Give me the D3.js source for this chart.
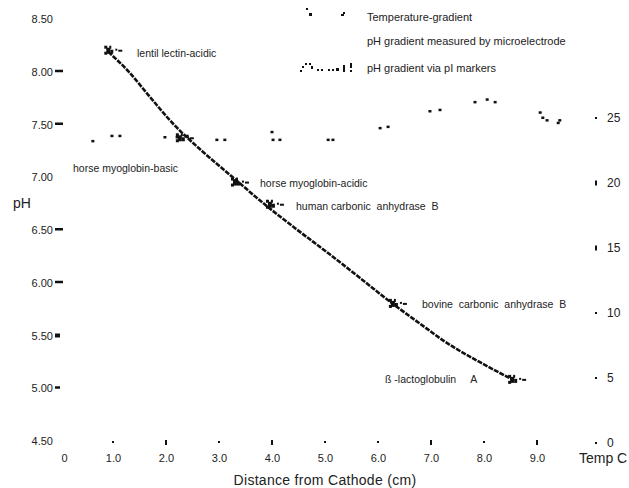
<!DOCTYPE html>
<html>
<head>
<meta charset="utf-8">
<script src="https://cdn.jsdelivr.net/npm/d3@7"></script>
<style>
  body { margin: 0; background: #fff; }
  text { font-family: "Liberation Sans", Arial, sans-serif; fill: #222; }
</style>
</head>
<body>
<div class="chart"></div>
<script>
// distance from cathode (cm) / pH
var electrodeDist = [0.91, 1.28, 1.70, 2.13, 2.70, 3.26, 3.92, 4.43, 5.09, 5.65, 6.23, 6.80, 7.30, 7.95, 8.55];
var electrodePH   = [8.18, 8.00, 7.75, 7.50, 7.23, 6.99, 6.71, 6.51, 6.26, 6.04, 5.81, 5.60, 5.42, 5.23, 5.07];

// temperature gradient, deg C
var tempDist = [0.62, 0.98, 1.13, 1.98, 2.21, 2.40, 2.96, 3.11, 4.00, 4.02, 4.15, 5.06, 5.15,
                6.04, 6.19, 6.98, 7.17, 7.83, 8.06, 8.21, 9.06, 9.11, 9.19, 9.40, 9.43];
var tempC    = [23.2, 23.6, 23.6, 23.5, 23.5, 23.6, 23.3, 23.3, 23.9, 23.3, 23.3, 23.3, 23.3,
                24.2, 24.3, 25.5, 25.6, 26.2, 26.4, 26.2, 25.4, 25.0, 24.8, 24.6, 24.8];

// pI markers
var markerNames = ["lentil lectin-acidic", "horse myoglobin-basic", "horse myoglobin-acidic",
                   "human carbonic  anhydrase  B", "bovine  carbonic  anhydrase  B", "ß -lactoglobulin     A"];
var markerDist = [0.93, 2.28, 3.32, 3.98, 6.30, 8.55];
var markerPH   = [8.19, 7.36, 6.94, 6.73, 5.79, 5.07];

var phTicks   = [4.5, 5.0, 5.5, 6.0, 6.5, 7.0, 7.5, 8.0, 8.5];
var phMarks   = [5.0, 5.5, 6.0, 6.5, 7.5, 8.0];
var distTicks = [0, 1, 2, 3, 4, 5, 6, 7, 8, 9];
var tempTicks = [0, 5, 10, 15, 20, 25];

var width = 629, height = 488;

var svg = d3.select('.chart')
  .append('svg')
    .attr('width', width)
    .attr('height', height);

var x = d3.scaleLinear().domain([0, 10]).range([60, 590]);
var y = d3.scaleLinear().domain([4.5, 8.5]).range([440, 18]);
var t = d3.scaleLinear().domain([0, 25]).range([443, 118]);

/**
 * Axes
 */
var yAxis = d3.axisLeft(y)
  .tickValues(phTicks)
  .tickFormat(d3.format('.2f'))
  .tickSize(0)
  .tickPadding(2);

svg.append('g')
    .attr('transform', 'translate(55, 1)')
  .call(yAxis)
  .call(g => g.select('.domain').remove())
  .selectAll('text').style('font-size', '11px');

// little bars next to the pH labels
svg.selectAll('.phmark')
  .data(phMarks)
  .enter().append('rect')
    .attr('x', 55)
    .attr('y', d => y(d) - 1)
    .attr('width', d => d === 5.5 ? 5 : (d === 5.0 ? 5 : 8))
    .attr('height', d => d === 5.5 ? 4 : 2.5)
    .style('fill', '#111');

var xAxis = d3.axisBottom(x)
  .tickValues(distTicks)
  .tickFormat(d => d === 0 ? '0' : d.toFixed(1))
  .tickSize(0)
  .tickPadding(4);

svg.append('g')
    .attr('transform', 'translate(0, 450)')
  .call(xAxis)
  .call(g => g.select('.domain').remove())
  .call(g => g.selectAll('text').style('font-size', '11px'))
  .call(g => g.selectAll('.tick').filter(d => d === 0).select('text').attr('dx', 4));

// dots along the bottom
svg.selectAll('.xdot')
  .data(distTicks.slice(1))
  .enter().append('rect')
    .attr('x', d => x(d) - 1)
    .attr('y', d => [2, 4, 7, 9].indexOf(d) >= 0 ? 440 : 441)
    .attr('width', 2)
    .attr('height', d => [2, 4, 7, 9].indexOf(d) >= 0 ? 5 : 2)
    .style('fill', '#111');

var tAxis = d3.axisRight(t)
  .tickValues(tempTicks)
  .tickSize(0)
  .tickPadding(2);

svg.append('g')
    .attr('transform', 'translate(605, 0)')
  .call(tAxis)
  .call(g => g.select('.domain').remove())
  .selectAll('text').style('font-size', '12px');

svg.selectAll('.tdot')
  .data(tempTicks)
  .enter().append('rect')
    .attr('x', 595)
    .attr('y', d => (d === 15 || d === 20) ? t(d) - 2.5 : t(d) - 1)
    .attr('width', 2)
    .attr('height', d => (d === 15 || d === 20) ? 5 : 2)
    .style('fill', '#111');

// axis titles
svg.append('text')
  .attr('x', 325).attr('y', 485)
  .attr('text-anchor', 'middle')
  .style('font-size', '14px')
  .style('letter-spacing', '0.3px')
  .text('Distance from Cathode (cm)');

svg.append('text')
  .attr('x', 579).attr('y', 463)
  .style('font-size', '14px')
  .text('Temp C');

svg.append('text')
  .attr('x', 13).attr('y', 208)
  .style('font-size', '14px')
  .text('pH');

/**
 * Microelectrode pH gradient
 */
var line = d3.line()
  .curve(d3.curveMonotoneX)
  .x(d => x(d[0]))
  .y(d => y(d[1]));

svg.append('path')
  .datum(d3.zip(electrodeDist, electrodePH))
  .attr('d', line)
  .style('fill', 'none')
  .style('stroke', '#111')
  .style('stroke-width', 2.6)
  .style('stroke-dasharray', '5,1.2');

/**
 * Temperature gradient points
 */
svg.selectAll('.temp')
  .data(d3.zip(tempDist, tempC))
  .enter().append('rect')
    .attr('x', d => x(d[0]) - 1.5)
    .attr('y', d => t(d[1]) - 1.5)
    .attr('width', 3)
    .attr('height', 2.5)
    .style('fill', '#111');

/**
 * pI markers
 */
var bits = [[-5, -5, 3, 3], [-3, -3, 4, 6], [0, -5, 2, 3], [1, -1, 3, 4], [-5, 1, 3, 3], [6, -2, 2, 2], [9, -1, 4, 2]];

var markers = svg.selectAll('.marker')
  .data(d3.zip(markerDist, markerPH))
  .enter().append('g')
    .attr('transform', d => `translate(${x(d[0])}, ${y(d[1])})`);

markers.selectAll('rect')
  .data(bits)
  .enter().append('rect')
    .attr('x', b => b[0]).attr('y', b => b[1])
    .attr('width', b => b[2]).attr('height', b => b[3])
    .style('fill', '#111');

var labelX = [137, 73, 260, 296, 422, 385];
var labelY = [57, 172, 187, 210, 308, 383];

svg.selectAll('.mlabel')
  .data(markerNames)
  .enter().append('text')
    .attr('x', (d, i) => labelX[i])
    .attr('y', (d, i) => labelY[i])
    .style('font-size', '10.5px')
    .style('white-space', 'pre')
    .text(d => d);

/**
 * Legend
 */
var legend = svg.append('g');
legend.append('text').attr('x', 367).attr('y', 21).style('font-size', '11px').text('Temperature-gradient');
legend.append('text').attr('x', 367).attr('y', 45).style('font-size', '11px').text('pH gradient measured  by microelectrode');
legend.append('text').attr('x', 367).attr('y', 72).style('font-size', '11px').text('pH gradient via pI markers');

[[306, 8, 2, 2], [309, 13, 3, 3], [341, 14, 3, 2], [343, 12, 2, 2],
 [300, 70, 2, 2], [302, 66, 2, 2], [305, 63, 2, 2], [309, 63, 2, 2], [311, 66, 2, 3],
 [317, 69, 2, 2], [321, 69, 2, 2], [328, 69, 2, 2], [332, 69, 2, 2], [336, 68, 3, 3],
 [343, 65, 2, 7], [350, 63, 2, 5], [350, 70, 2, 2]].forEach(function(b) {
  legend.append('rect')
    .attr('x', b[0]).attr('y', b[1])
    .attr('width', b[2]).attr('height', b[3])
    .style('fill', '#111');
});
</script>
</body>
</html>
